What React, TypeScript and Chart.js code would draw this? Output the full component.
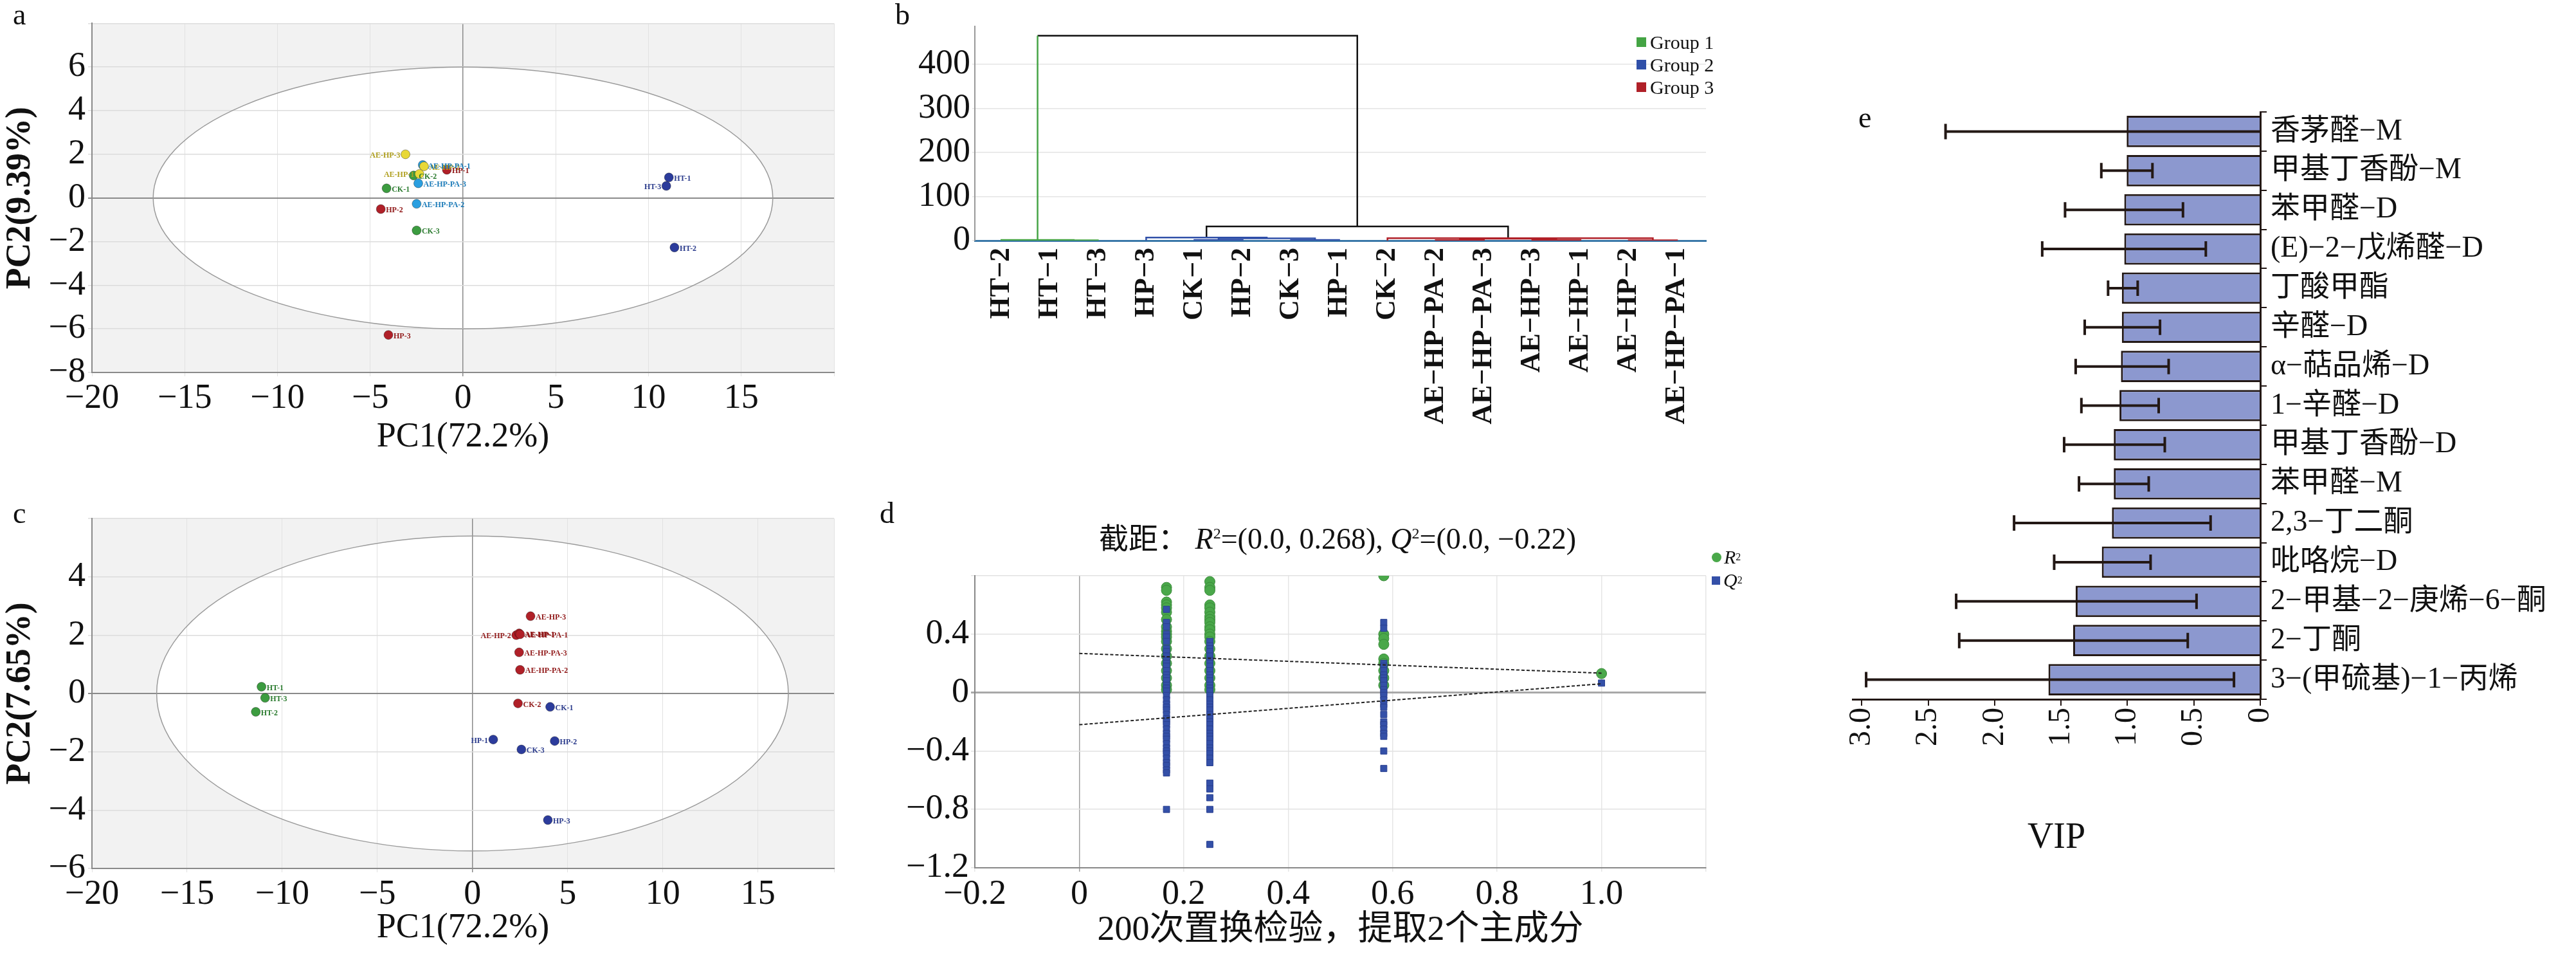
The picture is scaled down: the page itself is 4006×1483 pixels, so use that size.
import React, { useEffect, useRef } from "react";
import Chart from "chart.js/auto";

const SERIF = "'Liberation Serif', 'Times New Roman', serif";
const CJK = "'Liberation Serif', 'Noto Sans CJK SC', serif";

// ---------- Panel a (PCA all samples) ----------
const aNames = ["AE-HP-3", "AE-HP-PA-1", "AE-HP-2", "HP-1", "AE-HP-1", "CK-2", "AE-HP-PA-3", "CK-1", "AE-HP-PA-2", "HP-2", "CK-3", "HP-3", "HT-1", "HT-3", "HT-2"];
const aX = [-3.1, -2.17, -2.1, -0.87, -2.35, -2.66, -2.41, -4.12, -2.5, -4.43, -2.5, -4.02, 11.1, 10.96, 11.4];
const aY = [2.0, 1.51, 1.45, 1.29, 1.1, 1.03, 0.67, 0.44, -0.27, -0.51, -1.49, -6.28, 0.94, 0.55, -2.27];
const aGroup = [0, 1, 0, 2, 0, 3, 1, 3, 1, 2, 3, 2, 4, 4, 4];
const aLabelLeft = [true, false, false, false, true, false, false, false, false, false, false, false, false, true, false];
const aColors = ["#e8d838", "#2a9fe0", "#b02028", "#3c9c40", "#2c3c9c"];
const aLabelColors = ["#b0a020", "#1a7ab8", "#901818", "#2c7c30", "#2c3c8c"];

// ---------- Panel c (PCA) ----------
const cNames = ["AE-HP-3", "AE-HP-2", "AE-HP-1", "AE-HP-PA-1", "AE-HP-PA-3", "AE-HP-PA-2", "CK-2", "CK-1", "HP-1", "HP-2", "CK-3", "HP-3", "HT-1", "HT-3", "HT-2"];
const cX = [3.05, 2.3, 2.45, 2.5, 2.45, 2.5, 2.39, 4.08, 1.09, 4.32, 2.57, 3.96, -11.09, -10.9, -11.39];
const cY = [2.65, 2.0, 2.06, 2.03, 1.41, 0.81, -0.34, -0.46, -1.58, -1.63, -1.92, -4.34, 0.23, -0.15, -0.63];
const cGroup = [0, 0, 0, 0, 0, 0, 0, 1, 1, 1, 1, 1, 2, 2, 2];
const cLabelLeft = [false, true, false, false, false, false, false, false, true, false, false, false, false, false, false];
const cColors = ["#b02028", "#2c3c9c", "#3c9c40"];
const cLabelColors = ["#901818", "#2c3c8c", "#2c7c30"];

// ---------- Panel b (dendrogram) ----------
const leafNames = ["HT−2", "HT−1", "HT−3", "HP−3", "CK−1", "HP−2", "CK−3", "HP−1", "CK−2", "AE−HP−PA−2", "AE−HP−PA−3", "AE−HP−3", "AE−HP−1", "AE−HP−2", "AE−HP−PA−1"];
const linkLeft = [1, 0, 4, 6, 4.5, 3, 9, 11, 13, 9.5, 8, 4.25, 0.75, 0.75];
const linkRight = [2, 1.5, 5, 7, 6.5, 5.5, 10, 12, 14, 11.5, 13.5, 10.5, 0.75, 7.375];
const linkHeight = [0.8, 1.5, 1.4, 1.4, 5, 7, 1, 1.5, 0.6, 4.5, 5.5, 32, 465, 465];
const linkLeftBase = [0, 0, 0, 0, 1.4, 0, 0, 0, 0, 1, 0, 7, 1.5, 465];
const linkRightBase = [0, 0.8, 0, 0, 1.4, 5, 0, 0, 0, 1.5, 0.6, 5.5, 465, 32];
const linkGroup = [0, 0, 1, 1, 1, 1, 2, 2, 2, 2, 2, 3, 0, 3];
const groupColors = ["#44a444", "#2f4fa8", "#b02028", "#111111"];
const groupNames = ["Group 1", "Group 2", "Group 3"];

// ---------- Panel d (permutation test) ----------
const permX = [0.167, 0.25, 0.583, 1.0];
const r2Values = [
  [0.72, 0.7, 0.62, 0.6, 0.58, 0.55, 0.5, 0.45, 0.42, 0.4, 0.38, 0.35, 0.3, 0.25, 0.2, 0.15, 0.1, 0.05, 0.02],
  [0.76, 0.72, 0.7, 0.6, 0.58, 0.55, 0.52, 0.5, 0.48, 0.45, 0.43, 0.4, 0.38, 0.35, 0.3, 0.25, 0.2, 0.15, 0.1, 0.05, 0.02],
  [0.8, 0.4, 0.37, 0.33, 0.23, 0.2, 0.15, 0.1, 0.05],
  [0.13],
];
const q2Values = [
  [0.57, 0.48, 0.45, 0.4, 0.38, 0.35, 0.3, 0.28, 0.25, 0.22, 0.2, 0.18, 0.15, 0.12, 0.1, 0.08, 0.05, 0.03, 0.01, -0.02, -0.05, -0.08, -0.1, -0.12, -0.15, -0.18, -0.2, -0.22, -0.25, -0.28, -0.3, -0.32, -0.35, -0.38, -0.4, -0.42, -0.45, -0.48, -0.5, -0.53, -0.55, -0.8],
  [0.35, 0.32, 0.3, 0.28, 0.25, 0.22, 0.2, 0.18, 0.15, 0.12, 0.1, 0.08, 0.05, 0.03, 0.01, -0.02, -0.05, -0.08, -0.1, -0.12, -0.15, -0.18, -0.2, -0.22, -0.25, -0.28, -0.3, -0.32, -0.35, -0.38, -0.4, -0.42, -0.45, -0.48, -0.62, -0.66, -0.72, -0.8, -1.04],
  [0.48, 0.44, 0.2, 0.18, 0.15, 0.12, 0.1, 0.08, 0.05, 0.02, 0, -0.02, -0.05, -0.08, -0.1, -0.15, -0.2, -0.22, -0.25, -0.28, -0.3, -0.4, -0.52],
  [0.065],
];
const r2Intercept = 0.268;
const r2End = 0.133;
const q2Intercept = -0.22;
const q2End = 0.06;

// ---------- Panel e (VIP) ----------
const vipNames = ["香茅醛−M", "甲基丁香酚−M", "苯甲醛−D", "(E)−2−戊烯醛−D", "丁酸甲酯", "辛醛−D", "α−萜品烯−D", "1−辛醛−D", "甲基丁香酚−D", "苯甲醛−M", "2,3−丁二酮", "吡咯烷−D", "2−甲基−2−庚烯−6−酮", "2−丁酮", "3−(甲硫基)−1−丙烯"];
const vipValues = [1.006, 1.006, 1.024, 1.024, 1.042, 1.042, 1.049, 1.06, 1.103, 1.103, 1.117, 1.193, 1.39, 1.409, 1.595];
const vipHigh = [2.37, 1.197, 1.47, 1.642, 1.146, 1.322, 1.39, 1.347, 1.477, 1.365, 1.854, 1.552, 2.29, 2.267, 2.968];
const vipLow = [0, 0.812, 0.582, 0.41, 0.923, 0.755, 0.69, 0.765, 0.719, 0.84, 0.374, 0.826, 0.48, 0.546, 0.198];

const minus = (v: number | string) => String(v).replace("-", "−");

const pcaBgPlugin = {
  id: "pcaBg",
  beforeDraw(chart: any, _a: any, opts: any) {
    if (!opts || !opts.rx) return;
    const { ctx, chartArea: ca, scales } = chart;
    ctx.save();
    ctx.fillStyle = "#f2f2f2";
    ctx.fillRect(ca.left, ca.top, ca.right - ca.left, ca.bottom - ca.top);
    const cx = scales.x.getPixelForValue(0);
    const cy = scales.y.getPixelForValue(0);
    const rx = Math.abs(scales.x.getPixelForValue(opts.rx) - cx);
    const ry = Math.abs(scales.y.getPixelForValue(opts.ry) - cy);
    ctx.beginPath();
    ctx.ellipse(cx, cy, rx, ry, 0, 0, Math.PI * 2);
    ctx.fillStyle = "#ffffff";
    ctx.fill();
    ctx.restore();
  },
  beforeDatasetsDraw(chart: any, _a: any, opts: any) {
    if (!opts || !opts.rx) return;
    const { ctx, scales } = chart;
    const cx = scales.x.getPixelForValue(0);
    const cy = scales.y.getPixelForValue(0);
    const rx = Math.abs(scales.x.getPixelForValue(opts.rx) - cx);
    const ry = Math.abs(scales.y.getPixelForValue(opts.ry) - cy);
    ctx.save();
    ctx.beginPath();
    ctx.ellipse(cx, cy, rx, ry, 0, 0, Math.PI * 2);
    ctx.strokeStyle = "#9a9a9a";
    ctx.lineWidth = 1.5;
    ctx.stroke();
    ctx.restore();
  },
  afterDatasetsDraw(chart: any, _a: any, opts: any) {
    if (!opts || !opts.rx) return;
    const { ctx } = chart;
    ctx.save();
    ctx.font = `bold 12px ${SERIF}`;
    ctx.textBaseline = "middle";
    chart.data.datasets.forEach((ds: any, di: number) => {
      const meta = chart.getDatasetMeta(di);
      ds.data.forEach((p: any, i: number) => {
        const el = meta.data[i];
        ctx.fillStyle = ds.labelColor;
        if (p.left) {
          ctx.textAlign = "right";
          ctx.fillText(p.name, el.x - 8, el.y + 2);
        } else {
          ctx.textAlign = "left";
          ctx.fillText(p.name, el.x + 8, el.y + 2);
        }
      });
    });
    ctx.restore();
  },
};

const errPlugin = {
  id: "errBars",
  afterDatasetsDraw(chart: any, _a: any, opts: any) {
    if (!opts || !opts.on) return;
    const { ctx, scales } = chart;
    ctx.save();
    ctx.strokeStyle = "#231815";
    ctx.lineWidth = 4;
    vipNames.forEach((_n, i) => {
      const y = scales.y.getPixelForValue(i);
      const xh = scales.x.getPixelForValue(vipHigh[i]);
      const xl = scales.x.getPixelForValue(vipLow[i]);
      ctx.beginPath();
      ctx.moveTo(xh, y);
      ctx.lineTo(xl, y);
      ctx.moveTo(xh, y - 12);
      ctx.lineTo(xh, y + 12);
      if (vipLow[i] > 0) {
        ctx.moveTo(xl, y - 12);
        ctx.lineTo(xl, y + 12);
      }
      ctx.stroke();
    });
    ctx.restore();
  },
};

Chart.register(pcaBgPlugin as any, errPlugin as any);

function ChartBox({ left, top, width, height, config }: any) {
  const ref = useRef<HTMLCanvasElement>(null);
  useEffect(() => {
    const c = new Chart(ref.current as HTMLCanvasElement, config);
    return () => c.destroy();
  }, []);
  return (
    <div style={{ position: "absolute", left, top, width, height }}>
      <canvas ref={ref} width={width} height={height} style={{ width, height }} />
    </div>
  );
}

function pcaConfig(names: string[], xs: number[], ys: number[], groups: number[], leftFlags: boolean[], colors: string[], lColors: string[], xMax: number, yMin: number, yMax: number, yStep: number, yTitle: string, rx: number, ry: number, padTop: number, xH: number) {
  const datasets = colors.map((col, g) => ({
    data: names.map((n, i) => ({ x: xs[i], y: ys[i], name: n, left: leftFlags[i], g: groups[i] })).filter((p) => p.g === g),
    backgroundColor: col,
    borderColor: "rgba(0,0,0,0.35)",
    borderWidth: 1,
    pointRadius: 7,
    labelColor: lColors[g],
  }));
  return {
    type: "scatter",
    data: { datasets },
    options: {
      responsive: false,
      animation: false,
      devicePixelRatio: 1,
      layout: { padding: { top: padTop, right: 103, left: 0, bottom: 0 } },
      plugins: { legend: { display: false }, tooltip: { enabled: false }, pcaBg: { rx, ry } },
      scales: {
        x: {
          min: -20, max: xMax,
          afterFit: (s: any) => { s.height = xH; },
          ticks: { stepSize: 5, color: "#111", font: { family: SERIF, size: 54 }, callback: (v: number) => (v % 5 === 0 && v < xMax - 1 ? minus(v) : ""), padding: 2 },
          grid: { color: (c: any) => (c.tick && c.tick.value === 0 ? "#8a8a8a" : "#e2e2e2"), lineWidth: (c: any) => (c.tick && c.tick.value === 0 ? 1.5 : 1), tickLength: 6 },
          border: { color: "#8a8a8a", width: 2 },
          title: { display: true, text: "PC1(72.2%)", color: "#111", font: { family: SERIF, size: 54 }, padding: { top: 0, bottom: 8 } },
        },
        y: {
          min: yMin, max: yMax,
          afterFit: (s: any) => { s.width = 143; },
          ticks: { stepSize: yStep, color: "#111", font: { family: SERIF, size: 54 }, callback: (v: number) => (v < yMax ? minus(v) : ""), padding: 4 },
          grid: { color: (c: any) => (c.tick && c.tick.value === 0 ? "#8a8a8a" : "#dcdcdc"), lineWidth: (c: any) => (c.tick && c.tick.value === 0 ? 2 : 1.5), tickLength: 6 },
          border: { color: "#8a8a8a", width: 2 },
          title: { display: true, text: yTitle, color: "#111", font: { family: SERIF, size: 54, weight: "bold" }, padding: { top: 0, bottom: 0 } },
        },
      },
    },
  };
}

const aConfig = pcaConfig(aNames, aX, aY, aGroup, aLabelLeft, aColors, aLabelColors, 20, -8, 8, 2, "PC2(9.39%)", 16.7, 6, 32, 141);
const cConfig = pcaConfig(cNames, cX, cY, cGroup, cLabelLeft, cColors, cLabelColors, 19, -6, 6, 2, "PC2(7.65%)", 16.6, 5.4, 56, 133);

const bDatasets = linkLeft.map((l, i) => ({
  type: "line",
  data: [
    { x: l, y: linkLeftBase[i] },
    { x: l, y: linkHeight[i] },
    { x: linkRight[i], y: linkHeight[i] },
    { x: linkRight[i], y: linkRightBase[i] },
  ],
  borderColor: groupColors[linkGroup[i]],
  borderWidth: 2.5,
  pointRadius: 0,
  fill: false,
}));

const bConfig = {
  type: "scatter",
  data: { datasets: bDatasets },
  options: {
    responsive: false,
    animation: false,
    devicePixelRatio: 1,
    showLine: true,
    layout: { padding: { top: 41, right: 47, left: 0, bottom: 0 } },
    plugins: { legend: { display: false }, tooltip: { enabled: false } },
    scales: {
      x: {
        type: "linear",
        min: -0.55, max: 14.6,
        afterFit: (s: any) => { s.height = 376; },
        afterBuildTicks: (s: any) => { s.ticks = leafNames.map((_n, i) => ({ value: i })); },
        ticks: { autoSkip: false, minRotation: 90, maxRotation: 90, color: "#111", font: { family: SERIF, size: 44, weight: "bold" }, callback: (_v: number, i: number) => leafNames[i] },
        grid: { display: false, tickLength: 8 },
        border: { color: "#3a78a8", width: 3 },
      },
      y: {
        min: 0, max: 486,
        afterFit: (s: any) => { s.width = 116; },
        ticks: { stepSize: 50, color: "#111", font: { family: SERIF, size: 54 }, callback: (v: number) => (v % 100 === 0 ? String(v) : "") },
        grid: { color: "#e4e4e4", lineWidth: 1.5, tickLength: 4 },
        border: { color: "#999", width: 2 },
      },
    },
  },
};

const r2Points = permX.flatMap((x, i) => r2Values[i].map((y) => ({ x, y })));
const q2Points = permX.flatMap((x, i) => q2Values[i].map((y) => ({ x, y })));

const dConfig = {
  type: "scatter",
  data: {
    datasets: [
      { data: r2Points, order: 3, backgroundColor: "#4aa84a", borderColor: "#3a8a3a", borderWidth: 1, pointRadius: 8, pointStyle: "circle" },
      { data: q2Points, order: 2, backgroundColor: "#3450a8", borderColor: "#2a4090", borderWidth: 1, pointRadius: 7, pointStyle: "rect" },
      { type: "line", order: 1, data: [{ x: 0, y: r2Intercept }, { x: 1, y: r2End }], borderColor: "#222", borderWidth: 2, borderDash: [5, 3], pointRadius: 0 },
      { type: "line", order: 1, data: [{ x: 0, y: q2Intercept }, { x: 1, y: q2End }], borderColor: "#222", borderWidth: 2, borderDash: [5, 3], pointRadius: 0 },
    ],
  },
  options: {
    responsive: false,
    animation: false,
    devicePixelRatio: 1,
    layout: { padding: { top: 145, right: 197, left: 0, bottom: 0 } },
    plugins: { legend: { display: false }, tooltip: { enabled: false } },
    scales: {
      x: {
        type: "linear",
        min: -0.2, max: 1.2,
        afterFit: (s: any) => { s.height = 134; },
        ticks: { stepSize: 0.2, color: "#111", font: { family: SERIF, size: 54 }, callback: (v: number) => { const r = Math.round(v * 10) / 10; if (r > 1.05) return ""; if (r === 0) return "0"; if (r === 1) return "1.0"; return minus(r.toFixed(1)); } },
        grid: { color: (c: any) => (c.tick && Math.abs(c.tick.value) < 1e-9 ? "#a0a0a0" : "#e6e6e6"), lineWidth: 1.5, tickLength: 6 },
        border: { color: "#888", width: 2 },
        title: { display: true, text: "200次置换检验，提取2个主成分", color: "#111", font: { family: CJK, size: 54 }, padding: { top: 2, bottom: 4 } },
      },
      y: {
        min: -1.2, max: 0.8,
        afterFit: (s: any) => { s.width = 116; },
        ticks: { stepSize: 0.2, color: "#111", font: { family: SERIF, size: 54 }, callback: (v: number) => { const r = Math.round(v * 10) / 10; if (Math.abs(r) < 1e-9) return "0"; if (Math.round(r * 10) % 4 !== 0 || r > 0.5) return ""; return minus(r.toFixed(1)); } },
        grid: { color: (c: any) => (c.tick && Math.abs(c.tick.value) < 1e-9 ? "#a8a8a8" : "#e2e2e2"), lineWidth: (c: any) => (c.tick && Math.abs(c.tick.value) < 1e-9 ? 3 : 1.5), tickLength: 6 },
        border: { color: "#888", width: 2 },
      },
    },
  },
};

const eConfig = {
  type: "bar",
  data: {
    labels: vipNames,
    datasets: [{ data: vipValues, backgroundColor: "#8c98cf", borderColor: "#231815", borderWidth: 3, categoryPercentage: 1, barPercentage: 0.8 }],
  },
  options: {
    indexAxis: "y",
    responsive: false,
    animation: false,
    devicePixelRatio: 1,
    layout: { padding: { top: 74, right: 0, left: 31, bottom: 63 } },
    plugins: { legend: { display: false }, tooltip: { enabled: false }, errBars: { on: true } },
    scales: {
      x: {
        reverse: true,
        min: 0, max: 3.07,
        afterFit: (s: any) => { s.height = 250; },
        afterBuildTicks: (s: any) => { s.ticks = [0, 0.5, 1, 1.5, 2, 2.5, 3].map((v) => ({ value: v })); },
        ticks: { minRotation: 90, maxRotation: 90, color: "#111", font: { family: SERIF, size: 48 }, callback: (v: number) => (v === 0 ? "0" : v.toFixed(1)) },
        grid: { display: true, drawOnChartArea: false, tickLength: 10, color: "#231815", lineWidth: 2 },
        border: { color: "#231815", width: 3 },
        title: { display: true, text: "VIP", color: "#111", font: { family: SERIF, size: 56 }, padding: { top: 10, bottom: 0 } },
      },
      y: {
        position: "right",
        afterFit: (s: any) => { s.width = 491; },
        ticks: { color: "#111", font: { family: CJK, size: 46 }, padding: 6 },
        grid: { display: true, drawOnChartArea: false, tickLength: 10, color: "#231815", lineWidth: 2 },
        border: { color: "#231815", width: 3 },
      },
    },
  },
};

const letter = (t: string, left: number, top: number) => (
  <div style={{ position: "absolute", left, top, fontFamily: SERIF, fontSize: 46, lineHeight: "46px", color: "#111" }}>{t}</div>
);

export default function App() {
  useEffect(() => { document.body.style.margin = "0"; }, []);
  return (
    <div style={{ position: "relative", width: 4006, height: 1483, background: "#fff", overflow: "hidden" }}>
      <ChartBox left={0} top={0} width={1400} height={720} config={aConfig} />
      <ChartBox left={0} top={750} width={1400} height={733} config={cConfig} />
      <ChartBox left={1400} top={0} width={1300} height={750} config={bConfig} />
      <ChartBox left={1400} top={750} width={1450} height={733} config={dConfig} />
      <ChartBox left={2850} top={100} width={1156} height={1300} config={eConfig} />
      {letter("a", 20, 0)}
      {letter("b", 1392, 0)}
      {letter("c", 20, 775)}
      {letter("d", 1368, 775)}
      {letter("e", 2890, 160)}
      <div style={{ position: "absolute", left: 2545, top: 48, fontFamily: SERIF, fontSize: 30, lineHeight: "35px", color: "#111" }}>
        {groupNames.map((g, i) => (
          <div key={g} style={{ display: "flex", alignItems: "center" }}>
            <span style={{ display: "inline-block", width: 15, height: 15, background: groupColors[i], marginRight: 6 }} />{g}
          </div>
        ))}
      </div>
      <div style={{ position: "absolute", left: 1680, top: 800, width: 800, textAlign: "center", fontFamily: CJK, fontSize: 46, color: "#111", whiteSpace: "nowrap" }}>
        截距：&nbsp;<i>R</i><sup style={{ fontSize: 24 }}>2</sup>=(0.0, 0.268), <i>Q</i><sup style={{ fontSize: 24 }}>2</sup>=(0.0, −0.22)
      </div>
      <div style={{ position: "absolute", left: 2662, top: 848, fontFamily: SERIF, fontSize: 30, lineHeight: "36px", color: "#111" }}>
        <div style={{ display: "flex", alignItems: "center" }}><span style={{ display: "inline-block", width: 15, height: 15, borderRadius: 8, background: "#4aa84a", marginRight: 4 }} /><i>R</i><sup style={{ fontSize: 16 }}>2</sup></div>
        <div style={{ display: "flex", alignItems: "center" }}><span style={{ display: "inline-block", width: 13, height: 13, background: "#3450a8", marginRight: 5 }} /><i>Q</i><sup style={{ fontSize: 16 }}>2</sup></div>
      </div>
    </div>
  );
}
